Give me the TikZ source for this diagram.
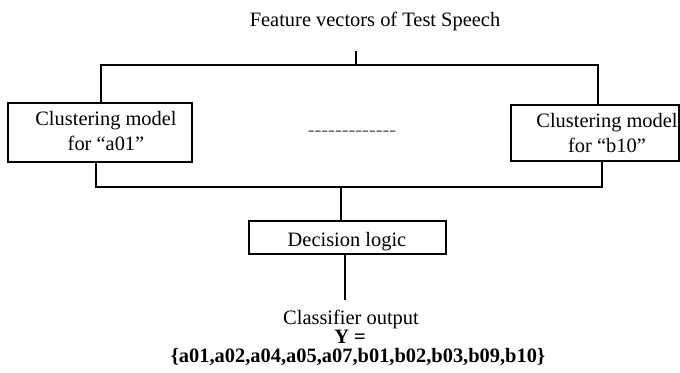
\documentclass[tikz,border=0pt]{standalone}
\usepackage{fontspec}
\setmainfont{Liberation Serif}
\begin{document}
\begin{tikzpicture}[x=1bp,y=-1bp,
  txt/.style={font=\fontsize{20.5}{25}\selectfont, inner sep=0pt, align=center},
  bx/.style={draw, line width=1.1bp, inner sep=0pt},
  ln/.style={line width=1.1bp}]
\useasboundingbox (0,0) rectangle (680,372);
% title
\node[txt, anchor=base] (title) at (375,26) {Feature vectors of Test Speech};
% boxes
\node[bx, minimum width=184bp, minimum height=59bp] (ca) at (100,132.5) {};
\node[txt] (cat) at (106,131) {Clustering model\\for “a01”};
\node[bx, minimum width=168bp, minimum height=56bp] (cb) at (595,133) {};
\node[txt] (cbt) at (607,133) {Clustering model\\for “b10”};
\node[txt, text=black!60, anchor=base] (dots) at (352,136) {\mbox{-}\mbox{-}\mbox{-}\mbox{-}\mbox{-}\mbox{-}\mbox{-}\mbox{-}\mbox{-}\mbox{-}\mbox{-}\mbox{-}\mbox{-}};
\node[bx, minimum width=197bp, minimum height=33bp] (dl) at (347.5,237.5) {};
\node[txt, anchor=base] (dlt) at (347,246) {Decision logic};
% output texts
\node[txt, anchor=base] (o1) at (351,324.5) {Classifier output};
\node[txt, anchor=base, font=\fontsize{20.5}{25}\selectfont\bfseries] (o2) at (350,343.5) {Y =};
\node[txt, anchor=base, font=\fontsize{20.5}{25}\selectfont\bfseries] (o3) at (358,362.5) {\{a01,a02,a04,a05,a07,b01,b02,b03,b09,b10\}};
% junction coordinates
\coordinate (tin) at (356,51);
\coordinate (tj) at (356,65);
\coordinate (tl) at (101,65);
\coordinate (tr) at (598,65);
\coordinate (bl) at (96,187);
\coordinate (br) at (602,187);
\coordinate (bj) at (341,187);
\coordinate (oe) at (345,300);
% connectors
\draw[ln] (tin) -- (tj);
\draw[ln] (tj) -- (tl) -- (tl |- ca.north);
\draw[ln] (tj) -- (tr) -- (tr |- cb.north);
\draw[ln] (bl |- ca.south) -- (bl) -- (br) -- (br |- cb.south);
\draw[ln] (bj) -- (bj |- dl.north);
\draw[ln] (oe |- dl.south) -- (oe);
\end{tikzpicture}
\end{document}
